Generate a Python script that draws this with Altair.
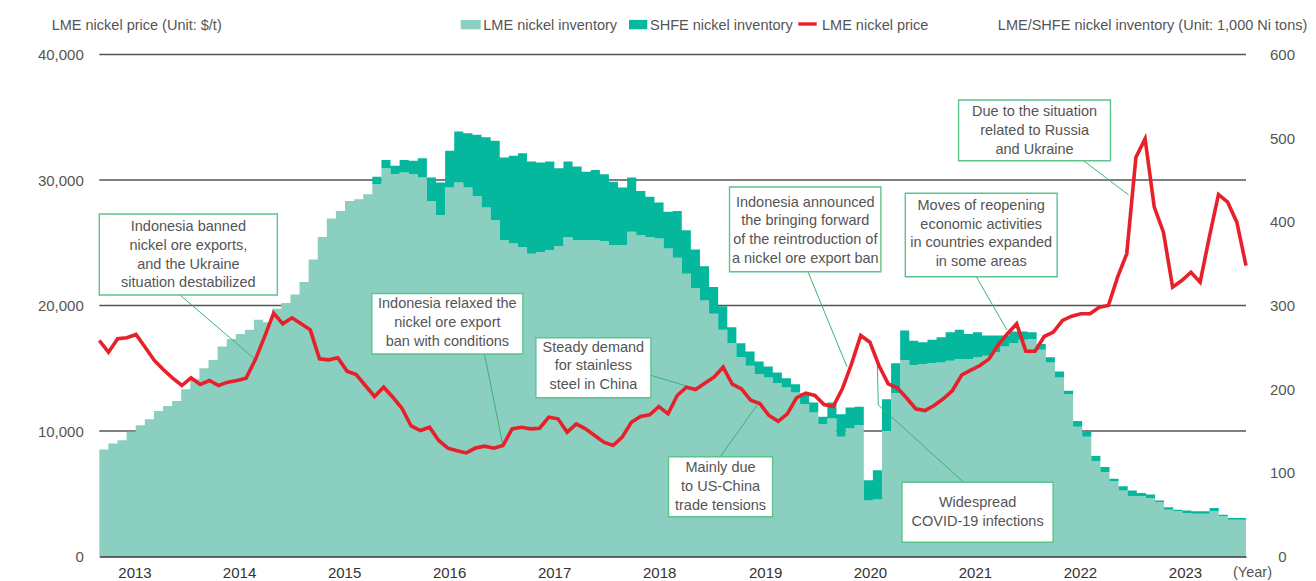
import altair as alt
import pandas as pd

FONT = "Liberation Sans"
TXT = "#555555"
C_LME = "#8ACFC0"
C_SHFE = "#05B89D"
C_RED = "#E8202A"
C_BOX = "#5CC48C"
C_LEAD = "#3DB373"

# ---- inventory (1,000 Ni tons), one value per bar ----
lme = [128, 135, 139, 149, 157, 164, 174, 180, 186, 200,
       212, 225, 235, 251, 260, 266, 271, 283, 280, 296,
       303, 313, 328, 355, 382, 404, 413, 425, 427, 433,
       445, 464, 457, 459, 457, 453, 425, 408, 441, 447,
       441, 431, 417, 402, 378, 374, 370, 362, 364, 366,
       371, 382, 378, 378, 378, 377, 372, 372, 388, 384,
       382, 380, 368, 357, 338, 321, 306, 290, 271, 255,
       238, 228, 218, 214, 207, 202, 196, 182, 172, 158,
       165, 143, 153, 157, 67, 68, 150, 195, 235, 229,
       230, 231, 232, 234, 236, 236, 238, 240, 244, 251,
       255, 259, 260, 247, 232, 214, 194, 155, 143, 114,
       101, 90, 79, 72, 72, 70, 65, 56, 54, 52,
       51, 51, 54, 48, 44, 44]
total = [128, 135, 139, 149, 157, 164, 174, 180, 186, 200,
         212, 225, 235, 251, 260, 266, 271, 283, 280, 296,
         303, 313, 328, 355, 382, 404, 413, 425, 427, 433,
         454, 474, 467, 474, 473, 476, 453, 447, 485, 508,
         506, 504, 501, 497, 477, 479, 482, 472, 471, 472,
         464, 472, 466, 460, 462, 457, 448, 441, 453, 437,
         430, 423, 412, 413, 390, 367, 347, 322, 299, 274,
         255, 245, 233, 227, 220, 213, 206, 195, 184, 167,
         184, 170, 178, 179, 91, 103, 188, 231, 270, 258,
         256, 259, 262, 268, 271, 266, 268, 264, 264, 264,
         269, 269, 268, 254, 238, 221, 198, 162, 150, 120,
         107, 93, 84, 79, 76, 74, 67, 59, 56, 55,
         54, 54, 58, 50, 46, 46]

# ---- LME nickel price ($/t) ----
price = [17211, 16280, 17345, 17425, 17690, 16680, 15620, 14875, 14210, 13625,
         14240, 13705, 14025, 13625, 13890, 14025, 14210, 15670, 17475, 19390,
         18540, 19020, 18540, 18060, 15750, 15670, 15830, 14770, 14500, 13625,
         12750, 13490, 12690, 11800, 10400, 10040, 10300, 9243, 8630, 8420,
         8250, 8640, 8790, 8630, 8845, 10170, 10300, 10170, 10225, 11100,
         10970, 9905, 10570, 10170, 9640, 9110, 8845, 9506, 10700, 11155,
         11290, 11950, 11370, 12830, 13490, 13305, 13810, 14290, 15085, 13730,
         13360, 12460, 12190, 11235, 10770, 11370, 12650, 13015, 12830, 12110,
         11950, 13360, 15355, 17610, 17075, 15200, 13760, 13430, 12630, 11770,
         11630, 12030, 12565, 13225, 14460, 14850, 15220, 15750, 16880, 17745,
         18540, 16360, 16360, 17530, 17875, 18805, 19150, 19340, 19340, 19865,
         20000, 22255, 24120, 31815, 33280, 27835, 25840, 21460, 21990, 22655,
         21860, 25445, 28845, 28230, 26640, 23185]

years = ["2013", "2014", "2015", "2016", "2017", "2018", "2019", "2020", "2021", "2022", "2023"]
year_pos = [3.92, 15.41, 26.95, 38.49, 50.03, 61.57, 73.22, 84.73, 96.27, 107.81, 119.35]
price_ticks = [0, 10000, 20000, 30000, 40000]
inv_ticks = [0, 100, 200, 300, 400, 500, 600]

# ---- annotations (price-line coordinates) ----
ann_text = [
    "Indonesia banned\nnickel ore exports,\nand the Ukraine\nsituation destabilized",
    "Indonesia relaxed the\nnickel ore export\nban with conditions",
    "Steady demand\nfor stainless\nsteel in China",
    "Mainly due\nto US-China\ntrade tensions",
    "Indonesia announced\nthe bringing forward\nof the reintroduction of\na nickel ore export ban",
    "Moves of reopening\neconomic activities\nin countries expanded\nin some areas",
    "Widespread\nCOVID-19 infections",
    "Due to the situation\nrelated to Russia\nand Ukraine",
]
box_x0 = [0.0, 29.71, 47.59, 62.05, 68.70, 87.86, 87.50, 93.67]
box_x1 = [19.41, 46.17, 60.13, 73.39, 85.20, 104.41, 103.97, 110.22]
box_y0 = [27290, 20956, 17434, 7952, 29442, 28940, 5912, 36374]
box_y1 = [20836, 16135, 12653, 3171, 22693, 22294, 1131, 31537]
txt_cx = [9.71, 37.94, 53.86, 67.72, 76.96, 96.13, 95.74, 101.95]
txt_cy = [24012, 18582, 15147, 5546, 25948, 25705, 3530, 33896]

lead_x0 = [8.80, 41.99, 60.13, 67.69, 77.25, 95.60, 94.22, 84.92, 107.30]
lead_y0 = [20836, 16135, 14438, 7952, 22693, 22294, 5912, 12071, 31537]
lead_x1 = [16.98, 43.99, 65.07, 71.97, 81.50, 98.95, 84.92, 84.81, 112.21]
lead_y1 = [15713, 8884, 13347, 12334, 15123, 18047, 12071, 15394, 28805]

N = len(lme)
W, H = 1146.7, 502
PMAX, IMAX = 40000, 600
LINE_H = 18.8  # px between annotation text lines

# step areas need a closing point at the right edge
bars = pd.DataFrame({
    "i": list(range(N)) + [N],
    "lme": lme + [lme[-1]],
    "total": total + [total[-1]],
})
bars["zero"] = 0
line_df = pd.DataFrame({"k": list(range(len(price))), "price": price})
ydf = pd.DataFrame({"pos": year_pos, "label": years})
grid_df = pd.DataFrame({"g": price_ticks[1:]})
boxes = pd.DataFrame({"x0": box_x0, "x1": box_x1, "y0": box_y0, "y1": box_y1})
leads = pd.DataFrame({"x0": lead_x0, "y0": lead_y0, "x1": lead_x1, "y1": lead_y1})

rows = []
step = LINE_H * PMAX / H
for t, cx, cy in zip(ann_text, txt_cx, txt_cy):
    parts = t.split("\n")
    n = len(parts)
    for j, p in enumerate(parts):
        rows.append({"cx": cx, "cy": cy + ((n - 1) / 2 - j) * step, "line": p})
lines_df = pd.DataFrame(rows)

# scales (explicit domains, so independent scales map identically)
xs_b = alt.Scale(domain=[0, N], nice=False, zero=False)
ys_b = alt.Scale(domain=[0, IMAX], nice=False)
xs_l = alt.Scale(domain=[0, len(price) - 1], nice=False, zero=False)
ys_l = alt.Scale(domain=[0, PMAX], nice=False)

x_axis = alt.Axis(domain=True, domainColor="#333333", domainWidth=1.6, labels=False,
                  ticks=False, grid=False, title=None, zindex=1)
y_axis_r = alt.Axis(orient="right", values=inv_ticks,
                    labelAlign="center", labelBaseline="middle", labelPadding=36,
                    ticks=False, domain=False, grid=False, title=None,
                    labelFontSize=15, labelColor=TXT, labelFont=FONT)
y_axis_l = alt.Axis(orient="left", values=price_ticks,
                    labelExpr="format(datum.value, ',.0f')",
                    grid=False, domain=False, ticks=False, labelPadding=16,
                    labelFontSize=15, labelColor=TXT, labelFont=FONT, title=None)

grid = alt.Chart(grid_df).mark_rule(color="#555555", strokeWidth=1.3).encode(
    y=alt.Y("g:Q", scale=ys_l, axis=None),
    x=alt.value(0), x2=alt.value(W),
)
lme_area = alt.Chart(bars).mark_area(interpolate="step-after", color=C_LME).encode(
    x=alt.X("i:Q", scale=xs_b, axis=x_axis),
    y=alt.Y("lme:Q", scale=ys_b, axis=y_axis_r),
    y2="zero:Q",
)
shfe_area = alt.Chart(bars).mark_area(interpolate="step-after", color=C_SHFE).encode(
    x=alt.X("i:Q", scale=xs_b, axis=None),
    y=alt.Y("total:Q", scale=ys_b, axis=None),
    y2="lme:Q",
)
year_text = alt.Chart(ydf).mark_text(fontSize=15, font=FONT, color="#333333",
                                     baseline="middle", align="center").encode(
    x=alt.X("pos:Q", scale=xs_b, axis=None),
    y=alt.value(H + 16.2),
    text="label:N",
)

price_line = alt.Chart(line_df).mark_line(color=C_RED, strokeWidth=3.6).encode(
    x=alt.X("k:Q", scale=xs_l, axis=None),
    y=alt.Y("price:Q", scale=ys_l, axis=y_axis_l),
)
leaders = alt.Chart(leads).mark_rule(color=C_LEAD, strokeWidth=1).encode(
    x=alt.X("x0:Q", scale=xs_l, axis=None),
    y=alt.Y("y0:Q", scale=ys_l, axis=None),
    x2="x1:Q", y2="y1:Q",
)
box_rect = alt.Chart(boxes).mark_rect(fill="white", stroke=C_BOX, strokeWidth=1.4).encode(
    x=alt.X("x0:Q", scale=xs_l, axis=None),
    x2="x1:Q",
    y=alt.Y("y0:Q", scale=ys_l, axis=None),
    y2="y1:Q",
)
box_text = alt.Chart(lines_df).mark_text(fontSize=14.5, font=FONT, color=TXT, align="center",
                                         baseline="middle").encode(
    x=alt.X("cx:Q", scale=xs_l, axis=None),
    y=alt.Y("cy:Q", scale=ys_l, axis=None),
    text="line:N",
)

one = pd.DataFrame({"a": [0]})


def label(txt, x, y, align="left"):
    return alt.Chart(one).mark_text(text=txt, fontSize=14.5, font=FONT, color=TXT,
                                    align=align, baseline="middle").encode(
        x=alt.value(x), y=alt.value(y))


TOP_Y = -29.0
leg_lme = alt.Chart(one).mark_rect(color=C_LME).encode(
    x=alt.value(361.4), x2=alt.value(381.4), y=alt.value(-34.6), y2=alt.value(-25.2))
leg_shfe = alt.Chart(one).mark_rect(color=C_SHFE).encode(
    x=alt.value(529.7), x2=alt.value(548.0), y=alt.value(-34.6), y2=alt.value(-25.2))
leg_red = alt.Chart(one).mark_rule(color=C_RED, strokeWidth=3.4).encode(
    x=alt.value(699.0), x2=alt.value(717.4), y=alt.value(-30.5))

guides = [
    leg_lme, leg_shfe, leg_red,
    label("LME nickel inventory", 384.0, TOP_Y),
    label("SHFE nickel inventory", 550.7, TOP_Y),
    label("LME nickel price", 722.7, TOP_Y),
    label("LME nickel price (Unit: $/t)", -47.6, TOP_Y),
    label("LME/SHFE nickel inventory (Unit: 1,000 Ni tons)", 1208.0, TOP_Y, align="right"),
    label("(Year)", 1153.2, H + 16.2, align="center"),
]

chart = alt.layer(
    grid, lme_area, shfe_area, year_text, leaders, price_line, box_rect, box_text, *guides
).resolve_scale(
    x="independent", y="independent"
).properties(
    width=W, height=H,
    padding={"left": 91.3, "top": 46.5, "right": 62, "bottom": 24.5},
    autosize=alt.AutoSizeParams(type="none"),
    background="white",
).configure_view(stroke=None)

chart.save("out.html", embed_options={"renderer": "svg", "actions": False})
